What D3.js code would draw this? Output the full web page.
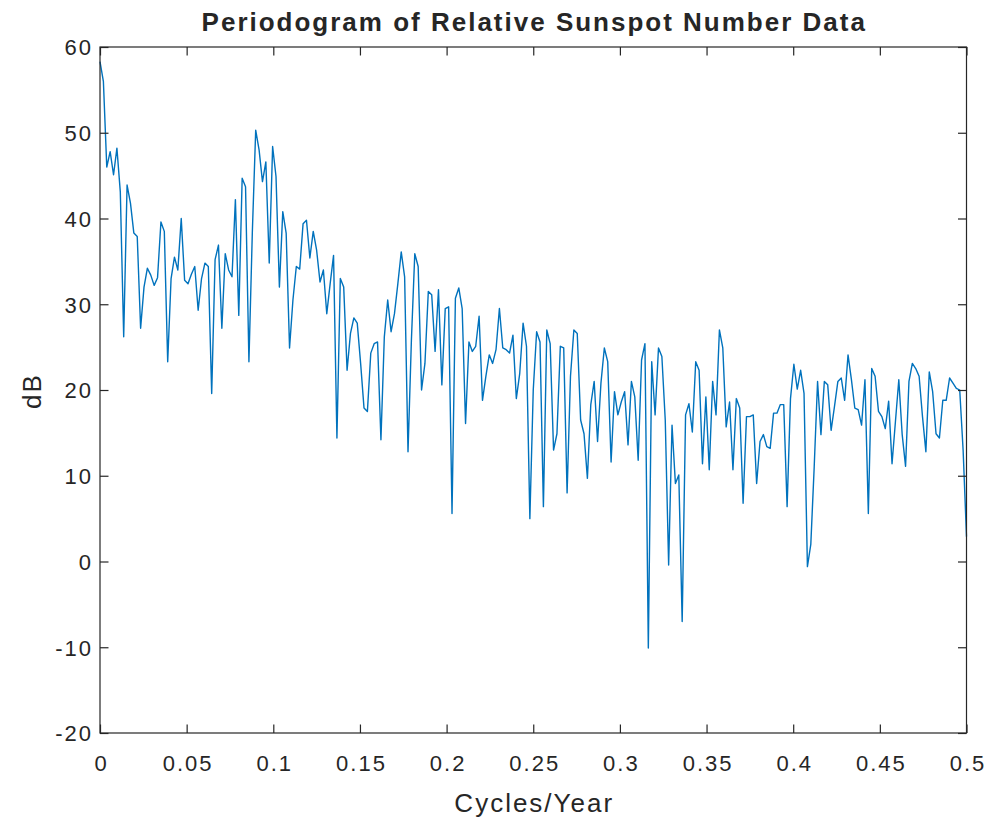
<!DOCTYPE html>
<html>
<head>
<meta charset="utf-8">
<script src="https://cdn.jsdelivr.net/npm/d3@7"></script>
<style>
  html, body { margin: 0; padding: 0; background: #ffffff; }
  svg { display: block; }
  text { font-family: "Liberation Sans", Arial, Helvetica, sans-serif; fill: #262626; }
</style>
</head>
<body>
<svg id="chart" width="988" height="821"></svg>
<script>
// ---- Data ----
const nfft = 512;                       // frequency grid: k / nfft cycles per year
const powerDb = [
  58.3, 56.0, 46.0, 47.8, 45.1, 48.2, 43.1, 26.2, 43.9, 41.8,
  38.3, 37.9, 27.2, 32.0, 34.2, 33.4, 32.2, 33.1, 39.6, 38.5,
  23.3, 33.0, 35.5, 34.0, 40.0, 32.8, 32.4, 33.5, 34.4, 29.3,
  33.0, 34.8, 34.4, 19.6, 35.2, 36.9, 27.2, 35.9, 34.0, 33.2,
  42.2, 28.7, 44.7, 43.7, 23.3, 38.3, 50.3, 48.0, 44.3, 46.6,
  34.8, 48.4, 44.9, 32.0, 40.8, 38.3, 24.9, 30.5, 34.4, 34.1,
  39.4, 39.8, 35.4, 38.5, 36.3, 32.6, 34.0, 28.9, 32.4, 35.7,
  14.4, 33.0, 32.0, 22.3, 26.6, 28.4, 27.8, 23.1, 17.9, 17.5,
  24.3, 25.4, 25.6, 14.2, 26.2, 30.5, 26.8, 28.9, 32.4, 36.1,
  33.2, 12.8, 25.8, 35.9, 34.4, 20.0, 23.1, 31.5, 31.1, 24.5,
  31.7, 20.6, 29.5, 29.7, 5.6, 30.7, 31.9, 29.5, 16.1, 25.6,
  24.5, 25.1, 28.6, 18.8, 21.6, 24.1, 23.1, 24.7, 29.5, 24.9,
  24.7, 24.3, 26.4, 19.0, 21.9, 27.8, 25.1, 5.0, 20.0, 26.8,
  25.6, 6.4, 27.0, 25.4, 13.0, 14.9, 25.1, 24.9, 8.0, 21.6,
  27.0, 26.6, 16.5, 14.9, 9.7, 18.3, 21.0, 14.0, 20.8, 24.9,
  23.3, 11.6, 19.8, 17.1, 18.6, 19.8, 13.6, 21.0, 19.2, 11.8,
  23.5, 25.4, -10.1, 23.3, 17.1, 24.9, 23.9, 16.5, -0.4, 15.9,
  9.1, 10.1, -7.0, 17.1, 18.4, 15.1, 23.3, 22.3, 11.4, 19.2,
  10.7, 21.0, 17.1, 27.0, 24.9, 15.7, 18.6, 10.7, 19.0, 17.9,
  6.8, 16.9, 16.9, 17.1, 9.1, 14.0, 14.8, 13.4, 13.2, 17.3,
  17.3, 18.3, 18.3, 6.4, 19.0, 23.0, 20.1, 22.3, 19.6, -0.6,
  2.0, 11.0, 21.0, 14.8, 21.0, 20.6, 15.3, 18.1, 21.0, 21.4,
  18.8, 24.1, 21.2, 17.9, 17.7, 15.9, 21.2, 5.6, 22.5, 21.6,
  17.5, 16.9, 15.5, 18.7, 11.4, 16.3, 21.2, 14.8, 11.1, 21.0,
  23.1, 22.5, 21.6, 16.9, 12.8, 22.1, 19.8, 14.9, 14.4, 18.8,
  18.8, 21.4, 20.8, 20.2, 20.0, 13.0, 2.9
];
const xTicks = [0, 0.05, 0.1, 0.15, 0.2, 0.25, 0.3, 0.35, 0.4, 0.45, 0.5];
const xTickLabels = ["0", "0.05", "0.1", "0.15", "0.2", "0.25", "0.3", "0.35", "0.4", "0.45", "0.5"];
const yTicks = [-20, -10, 0, 10, 20, 30, 40, 50, 60];
const yTickLabels = ["-20", "-10", "0", "10", "20", "30", "40", "50", "60"];
const titleText = "Periodogram of Relative Sunspot Number Data";
const xLabelText = "Cycles/Year";
const yLabelText = "dB";

// ---- Layout ----
const W = 988, H = 821;
const plot = { left: 100, right: 966.5, top: 47, bottom: 733 };
const axisColor = "#262626";
const lineColor = "#0072BD";
const tickLen = 8.5;
const tickFont = 22, labelFont = 26, titleFont = 26, spacing = 2;

const svg = d3.select("#chart");
svg.append("rect").attr("width", W).attr("height", H).attr("fill", "#ffffff");

const x = d3.scaleLinear().domain([0, 0.5]).range([plot.left, plot.right]);
const y = d3.scaleLinear().domain([-20, 60]).range([plot.bottom, plot.top]);

const points = powerDb.map((v, k) => ({ f: k / nfft, v }));

// Data line
svg.append("path")
  .datum(points)
  .attr("fill", "none")
  .attr("stroke", lineColor)
  .attr("stroke-width", 1.4)
  .attr("stroke-linejoin", "round")
  .attr("d", d3.line().x(d => x(d.f)).y(d => y(d.v)));

function styleAxis(g) {
  g.select(".domain").remove();
  g.selectAll(".tick line").attr("stroke", axisColor).attr("stroke-width", 1.2);
  g.selectAll(".tick text")
    .attr("fill", axisColor)
    .style("font-size", tickFont + "px")
    .style("letter-spacing", spacing + "px")
    .style("font-family", '"Liberation Sans", Arial, sans-serif');
}

const xLabelOf = d => xTickLabels[xTicks.indexOf(d)];
const yLabelOf = d => yTickLabels[yTicks.indexOf(d)];

// Bottom axis (inward ticks + labels)
svg.append("g")
  .attr("transform", `translate(0,${plot.bottom})`)
  .call(d3.axisBottom(x).tickValues(xTicks).tickFormat(xLabelOf)
    .tickSizeInner(-tickLen).tickSizeOuter(0).tickPadding(22))
  .call(styleAxis)
  .call(g => g.selectAll(".tick text").attr("dx", spacing / 2));

// Top axis (ticks only)
svg.append("g")
  .attr("transform", `translate(0,${plot.top})`)
  .call(d3.axisTop(x).tickValues(xTicks).tickFormat("")
    .tickSizeInner(-tickLen).tickSizeOuter(0))
  .call(styleAxis);

// Left axis (inward ticks + labels)
svg.append("g")
  .attr("transform", `translate(${plot.left},0)`)
  .call(d3.axisLeft(y).tickValues(yTicks).tickFormat(yLabelOf)
    .tickSizeInner(-tickLen).tickSizeOuter(0).tickPadding(9))
  .call(styleAxis)
  .call(g => g.selectAll(".tick text").attr("dx", spacing).attr("dy", "0.36em"));

// Right axis (ticks only)
svg.append("g")
  .attr("transform", `translate(${plot.right},0)`)
  .call(d3.axisRight(y).tickValues(yTicks).tickFormat("")
    .tickSizeInner(-tickLen).tickSizeOuter(0))
  .call(styleAxis);

// Box
svg.append("rect")
  .attr("x", plot.left).attr("y", plot.top)
  .attr("width", plot.right - plot.left).attr("height", plot.bottom - plot.top)
  .attr("fill", "none").attr("stroke", axisColor).attr("stroke-width", 1.2);

// Title
svg.append("text")
  .attr("x", (plot.left + plot.right) / 2 + spacing / 2)
  .attr("y", 31)
  .attr("text-anchor", "middle")
  .style("font-size", titleFont + "px")
  .style("font-weight", "bold")
  .style("letter-spacing", spacing + "px")
  .attr("fill", "#000000")
  .text(titleText);

// X label
svg.append("text")
  .attr("x", (plot.left + plot.right) / 2 + spacing / 2)
  .attr("y", 812)
  .attr("text-anchor", "middle")
  .style("font-size", labelFont + "px")
  .style("letter-spacing", spacing + "px")
  .attr("fill", axisColor)
  .text(xLabelText);

// Y label
svg.append("text")
  .attr("transform", `translate(41,${(plot.top + plot.bottom) / 2 + spacing / 2}) rotate(-90)`)
  .attr("text-anchor", "middle")
  .style("font-size", labelFont + "px")
  .style("letter-spacing", spacing + "px")
  .attr("fill", axisColor)
  .text(yLabelText);
</script>
</body>
</html>
